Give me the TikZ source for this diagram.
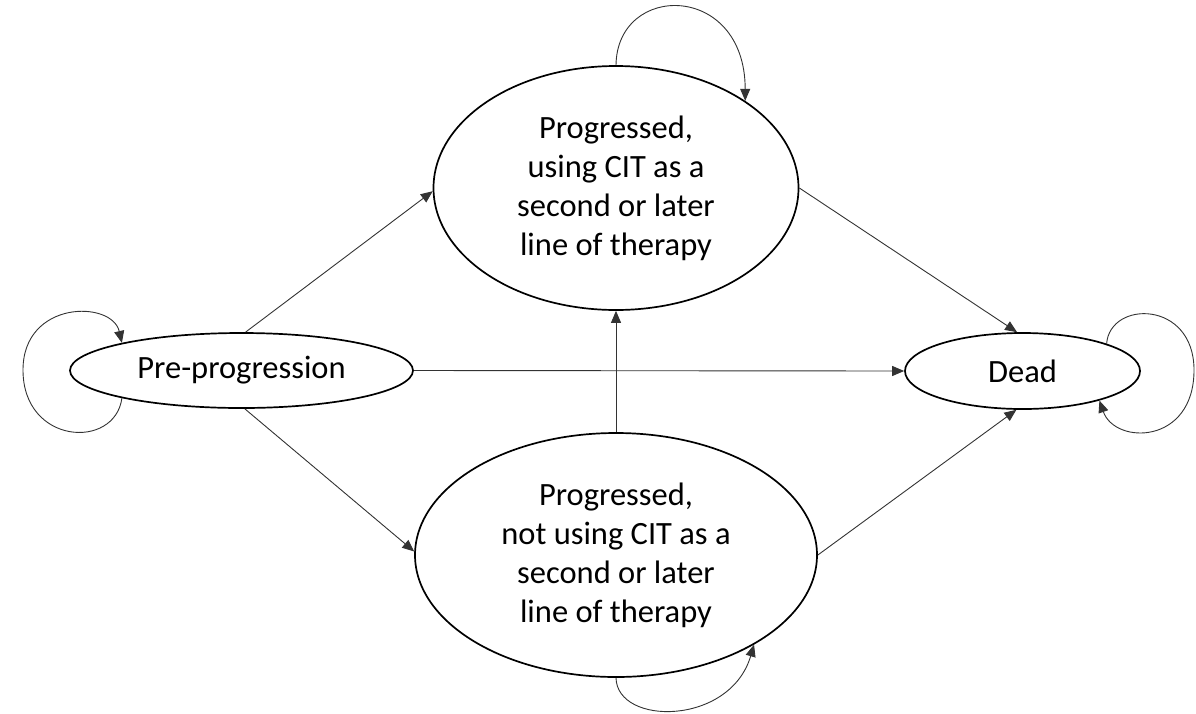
\documentclass[tikz,border=0pt]{standalone}
\usepackage{fontspec}
\setmainfont{Carlito}
\usetikzlibrary{shapes.geometric,arrows.meta}
\begin{document}
\begin{tikzpicture}[x=1pt,y=-1pt,
  state/.style={ellipse,draw,line width=1.7pt,inner sep=0pt,align=center,
    font=\fontsize{32.5}{39}\selectfont},
  conn/.style={line width=0.9pt,draw=black!80,-{Triangle[length=12pt,width=10pt]}}]
\useasboundingbox (0,0) rectangle (1196,713);
\node[state,minimum width=343pt,minimum height=75pt] (pre) at (241.5,370.5) {Pre-progression};
\node[state,minimum width=365pt,minimum height=244pt] (top) at (616,188)
  {Progressed,\\using CIT as a\\second or later\\line of therapy};
\node[state,minimum width=402pt,minimum height=244pt] (bot) at (616,555)
  {Progressed,\\not using CIT as a\\second or later\\line of therapy};
\node[state,minimum width=235pt,minimum height=76pt] (dead) at (1022.5,371) {Dead};
% straight transitions
\draw[conn] (pre.84.7) -- (top.181);
\draw[conn] (pre.275.3) -- (bot.179.4);
\draw[conn] (pre.east) -- (dead.west);
\draw[conn] (bot.north) -- (top.south);
\draw[conn] (top.east) -- (dead.98.2);
\draw[conn] (bot.east) -- (dead.261.8);
% self loops
\coordinate (preL) at (23,370);
\draw[conn] (pre.193.1) .. controls (115,450) and (23,445) .. (preL)
  .. controls (23,300) and (112,300) .. (pre.167.7);
\draw[conn] (top.90) .. controls (617,-18) and (745,-18) .. (top.34.9);
\draw[conn] (bot.270) .. controls (617,726) and (730,726) .. (bot.327.6);
\coordinate (deadR) at (1194,370);
\draw[conn] (dead.18.7) .. controls (1110,300) and (1194,300) .. (deadR)
  .. controls (1194,445) and (1115,445) .. (dead.339.9);
\end{tikzpicture}
\end{document}
